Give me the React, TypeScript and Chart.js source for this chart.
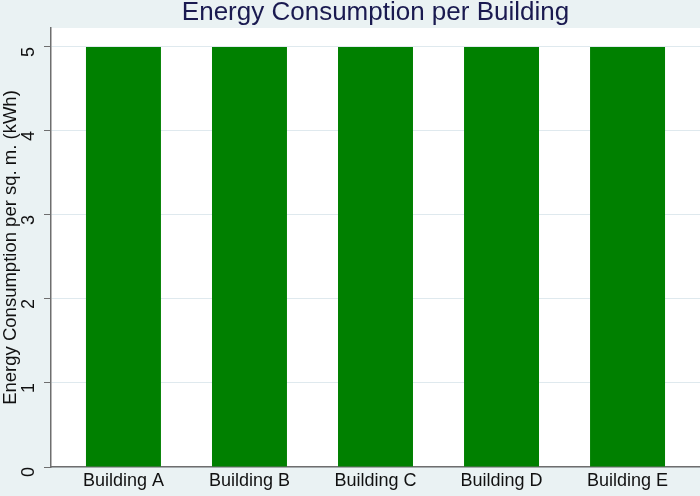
import React, { useEffect, useRef } from "react";
import { Chart, registerables } from "chart.js";

Chart.register(...registerables);

const categories = ["Building A", "Building B", "Building C", "Building D", "Building E"];
const consumption = [5, 5, 5, 5, 5];
const yTicks = [0, 1, 2, 3, 4, 5];
const titleText = "Energy Consumption per Building";
const yTitle = "Energy Consumption per sq. m. (kWh)";

const BG = "#EAF2F3";
const FONT = "'Liberation Sans', Arial, sans-serif";

export default function App() {
  const ref = useRef<HTMLCanvasElement | null>(null);
  useEffect(() => {
    if (!ref.current) return;
    const bgPlugin = {
      id: "bgPlugin",
      beforeDraw(chart: any) {
        const { ctx, chartArea } = chart;
        ctx.save();
        ctx.fillStyle = BG;
        ctx.fillRect(0, 0, chart.width, chart.height);
        ctx.fillStyle = "#ffffff";
        ctx.fillRect(chartArea.left, chartArea.top, chartArea.right - chartArea.left, chartArea.bottom - chartArea.top);
        ctx.restore();
      },
      afterDraw(chart: any) {
        const { ctx, chartArea } = chart;
        ctx.save();
        ctx.fillStyle = "#1a1a50";
        ctx.font = `26px ${FONT}`;
        ctx.textAlign = "center";
        ctx.textBaseline = "middle";
        ctx.fillText(titleText, (chartArea.left + chartArea.right) / 2, 13);
        ctx.restore();
      },
    };
    const chart = new Chart(ref.current, {
      type: "bar",
      data: {
        datasets: [
          {
            data: categories.map((_, i) => ({ x: i, y: consumption[i] })),
            backgroundColor: "#008000",
            borderWidth: 0,
            barPercentage: 0.595,
            categoryPercentage: 1,
          },
        ],
      },
      plugins: [bgPlugin],
      options: {
        animation: false,
        responsive: false,
        devicePixelRatio: 1,
        layout: { padding: { top: 28, right: 0, bottom: 0, left: 0 } },
        plugins: { legend: { display: false }, tooltip: { enabled: false }, title: { display: false } },
        scales: {
          x: {
            type: "linear",
            offset: false,
            min: -0.575,
            max: 4.575,
            afterBuildTicks(scale: any) {
              scale.ticks = categories.map((_, i) => ({ value: i }));
            },
            afterFit(scale: any) {
              scale.height = 29;
            },
            ticks: {
              callback: (v: any) => categories[Math.round(Number(v))] ?? "",
              color: "#111111",
              font: { family: FONT, size: 18 },
              padding: 3,
              maxRotation: 0,
              minRotation: 0,
            },
            grid: { display: false, drawTicks: false },
            border: { display: true, color: "#6e6e6e", width: 1.5 },
          },
          y: {
            min: 0,
            max: 5.226,
            afterBuildTicks(scale: any) {
              scale.ticks = yTicks.map((v) => ({ value: v }));
            },
            afterFit(scale: any) {
              scale.width = 51;
            },
            ticks: {
              color: "#111111",
              font: { family: FONT, size: 18 },
              minRotation: 90,
              maxRotation: 90,
              padding: 15,
            },
            grid: {
              color: "#dfe9ee",
              lineWidth: 1,
              tickLength: 7,
              tickColor: "#6e6e6e",
              drawTicks: true,
            },
            border: { display: true, color: "#6e6e6e", width: 1.5 },
            title: {
              display: true,
              text: yTitle,
              color: "#111111",
              font: { family: FONT, size: 18.5 },
              padding: { top: 0, bottom: 0 },
            },
          },
        },
      },
    } as any);
    return () => chart.destroy();
  }, []);
  return (
    <div style={{ position: "fixed", left: 0, top: 0, width: 700, height: 496 }}>
      <canvas ref={ref} width={700} height={496} style={{ width: 700, height: 496 }} />
    </div>
  );
}
